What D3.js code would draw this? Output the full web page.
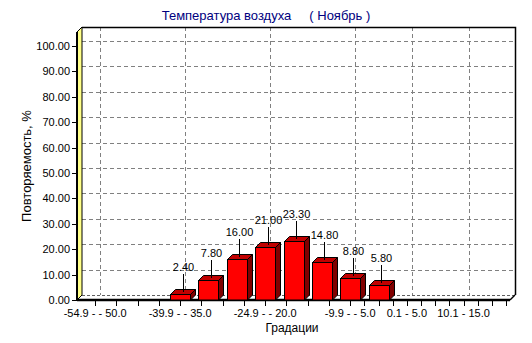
<!DOCTYPE html>
<html>
<head>
<meta charset="utf-8">
<script src="https://cdn.jsdelivr.net/npm/d3@7/dist/d3.min.js"></script>
<style>
  html, body { margin: 0; padding: 0; background: #fff; }
  svg { display: block; font-family: "Liberation Sans", Arial, sans-serif; }
</style>
</head>
<body>
<svg id="chart" width="532" height="343"></svg>
<script>
// Temperature gradations (°C) and their frequency, %
const categories = [
  "-54.9 - - 50.0", "-49.9 - - 45.0", "-44.9 - - 40.0", "-39.9 - - 35.0",
  "-34.9 - - 30.0", "-29.9 - - 25.0", "-24.9 - - 20.0", "-19.9 - - 15.0",
  "-14.9 - - 10.0", "-9.9 - - 5.0", "-4.9 - 0.0", "0.1 - 5.0",
  "5.1 - 10.0", "10.1 - 15.0", "15.1 - 20.0"
];
const values = [null, null, null, 2.40, 7.80, 16.00, 21.00, 23.30, 14.80, 8.80, 5.80, null, null, null, null];
const yTicks = [0, 10, 20, 30, 40, 50, 60, 70, 80, 90, 100];
const titleText = "Температура воздуха     ( Ноябрь )";
const yTitle = "Повторяемость, %";
const xTitle = "Градации";

const svg = d3.select("#chart");

// front plane of the 3D box and the depth offset
const pLeft = 77, pRight = 510, pBottom = 300, pTop = 32;
const dx = 5, dy = 5;

const y = d3.scaleLinear().domain([0, 100]).range([pBottom, 46]);
const x = d3.scalePoint().domain(categories).range([pLeft, pRight]).padding(0.64);
const barW = 20;

// back wall
svg.append("rect")
  .attr("x", pLeft + dx).attr("y", pTop - dy)
  .attr("width", pRight - pLeft).attr("height", pBottom - pTop)
  .attr("fill", "#fff");

// floor
svg.append("polygon")
  .attr("points", [[pLeft, pBottom], [pLeft + dx, pBottom - dy], [pRight + dx, pBottom - dy], [pRight, pBottom]].join(" "))
  .attr("fill", "#fff");

// horizontal grid on the back wall
svg.append("g").selectAll("line").data(yTicks.filter(d => d > 0)).join("line")
  .attr("x1", pLeft + dx).attr("x2", pRight + dx)
  .attr("y1", d => Math.round(y(d)) - dy + 0.5).attr("y2", d => Math.round(y(d)) - dy + 0.5)
  .attr("stroke", "#808080").attr("stroke-dasharray", "4,3");

// choose bottom-axis labels that do not overlap the previously drawn one
const measure = svg.append("text").attr("font-size", 11).attr("visibility", "hidden");
const shown = [];
let lastRight = -Infinity;
categories.forEach((c, i) => {
  measure.text(c);
  const w = measure.node().getComputedTextLength();
  const cx = x(c);
  if (cx - w / 2 > lastRight + 2 && cx + w / 2 <= pRight + dx + 20) {
    shown.push(i);
    lastRight = cx + w / 2;
  }
});
measure.remove();

// vertical grid on the back wall at labelled positions
svg.append("g").selectAll("line").data(shown).join("line")
  .attr("x1", i => Math.round(x(categories[i])) + dx + 0.5)
  .attr("x2", i => Math.round(x(categories[i])) + dx + 0.5)
  .attr("y1", pTop - dy).attr("y2", pBottom - dy)
  .attr("stroke", "#808080").attr("stroke-dasharray", "4,3");

// floor back edge
svg.append("line")
  .attr("x1", pLeft + dx).attr("x2", pRight + dx)
  .attr("y1", pBottom - dy + 0.5).attr("y2", pBottom - dy + 0.5)
  .attr("stroke", "#606060").attr("stroke-dasharray", "3,2");

// back wall top and right borders
svg.append("path")
  .attr("d", `M${pLeft + dx},${pTop - dy + 0.5}H${pRight + dx + 0.5}V${pBottom - dy}`)
  .attr("fill", "none").attr("stroke", "#000").attr("stroke-width", 1.5);

// left wall
svg.append("polygon")
  .attr("points", [[pLeft, pTop], [pLeft + dx, pTop - dy], [pLeft + dx, pBottom - dy], [pLeft, pBottom]].join(" "))
  .attr("fill", "#ffff88").attr("stroke", "#000").attr("stroke-width", 1);
svg.append("line")
  .attr("x1", pLeft).attr("x2", pLeft).attr("y1", pTop).attr("y2", pBottom + 1)
  .attr("stroke", "#000").attr("stroke-width", 2);

// floor front edge and right slant
svg.append("line")
  .attr("x1", pLeft).attr("x2", pRight).attr("y1", pBottom).attr("y2", pBottom)
  .attr("stroke", "#000").attr("stroke-width", 2.5);
svg.append("line")
  .attr("x1", pRight).attr("x2", pRight + dx).attr("y1", pBottom).attr("y2", pBottom - dy)
  .attr("stroke", "#000").attr("stroke-width", 1.5);

// bars
const bars = categories.map((c, i) => ({ c, v: values[i] })).filter(d => d.v != null);
const gb = svg.append("g");
bars.forEach(d => {
  const xl = Math.round(x(d.c)) - barW / 2 + 0.5, xr = xl + barW;
  const yt = Math.round(y(d.v)) + 0.5, yb = pBottom;
  // side face
  gb.append("polygon")
    .attr("points", [[xr, yt], [xr + dx, yt - dy], [xr + dx, yb - dy], [xr, yb]].join(" "))
    .attr("fill", "#800000").attr("stroke", "#000").attr("stroke-width", 1);
  // top face
  gb.append("polygon")
    .attr("points", [[xl, yt], [xl + dx, yt - dy], [xr + dx, yt - dy], [xr, yt]].join(" "))
    .attr("fill", "#c00000").attr("stroke", "#000").attr("stroke-width", 1);
  // front face
  gb.append("rect")
    .attr("x", xl).attr("y", yt).attr("width", barW).attr("height", yb - yt)
    .attr("fill", "#ff0000").attr("stroke", "#000").attr("stroke-width", 1);
  // value mark with its connector
  const mx = Math.round(x(d.c) + dx / 2) + 0.5;
  const my0 = yt - dy / 2;
  const my1 = my0 - 18;
  gb.append("line")
    .attr("x1", mx).attr("x2", mx).attr("y1", my0).attr("y2", my1)
    .attr("stroke", "#000").attr("stroke-width", 1);
  gb.append("text")
    .attr("x", mx).attr("y", my1 - 3)
    .attr("text-anchor", "middle").attr("font-size", 11).attr("fill", "#000")
    .text(d.v.toFixed(2));
});

// left axis ticks and labels
const gy = svg.append("g");
gy.selectAll("line").data(yTicks).join("line")
  .attr("x1", pLeft - 5).attr("x2", pLeft)
  .attr("y1", d => Math.round(y(d)) + 0.5).attr("y2", d => Math.round(y(d)) + 0.5)
  .attr("stroke", "#000");
gy.selectAll("text").data(yTicks).join("text")
  .attr("x", pLeft - 7).attr("y", d => y(d) + 4)
  .attr("text-anchor", "end").attr("font-size", 11).attr("fill", "#000")
  .text(d => d.toFixed(2));

// bottom axis: major ticks at labels, three minor ticks between
const gx = svg.append("g");
const majors = shown.map(i => x(categories[i]));
const tickPos = [];
majors.forEach((m, k) => {
  tickPos.push(m);
  const next = k < majors.length - 1 ? majors[k + 1] : null;
  const step = next != null ? (next - m) / 4 : (m - majors[k - 1]) / 4;
  for (let j = 1; j <= 3; j++) {
    const p = m + j * step;
    if (p <= pRight) tickPos.push(p);
  }
});
gx.selectAll("line").data(tickPos).join("line")
  .attr("x1", d => Math.round(d) + 0.5).attr("x2", d => Math.round(d) + 0.5)
  .attr("y1", pBottom + 1).attr("y2", pBottom + 6)
  .attr("stroke", "#000");
gx.selectAll("text").data(shown).join("text")
  .attr("x", i => x(categories[i])).attr("y", 317)
  .attr("text-anchor", "middle").attr("font-size", 11).attr("fill", "#000")
  .text(i => categories[i]);

// titles
svg.append("text")
  .attr("x", 266).attr("y", 20)
  .attr("text-anchor", "middle").attr("font-size", 13).attr("fill", "#000080")
  .attr("xml:space", "preserve").style("white-space", "pre")
  .text(titleText);
svg.append("text")
  .attr("transform", "translate(31,166) rotate(-90)")
  .attr("text-anchor", "middle").attr("font-size", 13).attr("fill", "#000")
  .text(yTitle);
svg.append("text")
  .attr("x", 292).attr("y", 332)
  .attr("text-anchor", "middle").attr("font-size", 12).attr("fill", "#000")
  .text(xTitle);
</script>
</body>
</html>
